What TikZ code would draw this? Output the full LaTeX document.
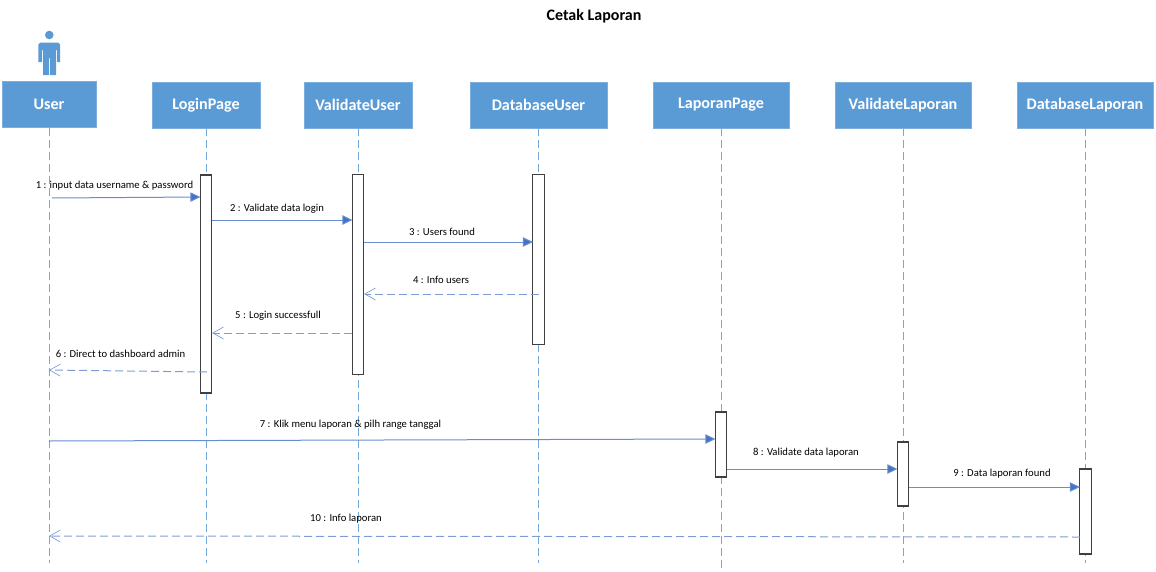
\documentclass[tikz,border=0pt]{standalone}
\usepackage{fontspec}
\setmainfont{Carlito}
\usetikzlibrary{arrows.meta,positioning}
\definecolor{boxBlue}{HTML}{5B9BD5}
\definecolor{msgBlue}{HTML}{4472C4}
\tikzset{
  lifeBox/.style={draw=boxBlue!80!white,fill=boxBlue,text=white,font=\fontsize{12.1pt}{14pt}\selectfont\bfseries,minimum height=34.5pt,inner sep=0pt},
  lifeLine/.style={draw=boxBlue!85!white,line width=0.7pt,dash pattern=on 6pt off 3pt},
  actBox/.style={draw=black!75,fill=white,line width=0.8pt,minimum width=8.5pt,inner sep=0pt},
  callMsg/.style={draw=msgBlue!80!white,line width=0.75pt,shorten >=-0.5pt,-{Triangle[length=7.5pt,width=7pt,fill=msgBlue]}},
  backMsg/.style={draw=msgBlue!70!white,line width=0.75pt,dash pattern=on 6pt off 3pt,-{Straight Barb[length=8pt,width=9pt,line width=0.5pt]}},
  msgText/.style={font=\fontsize{8pt}{10pt}\selectfont,inner sep=0pt,text=black}
}
\begin{document}
\begin{tikzpicture}[x=0.75pt,y=-0.75pt]
\useasboundingbox (0,0) rectangle (1156,571);
\node[font=\fontsize{12pt}{14pt}\selectfont\bfseries] (title) at (594,16) {Cetak Laporan};
%Figur oben links
\fill[boxBlue] (49.3,35) circle (4.3);
\fill[boxBlue] (40.5,42.5) -- (58,42.5) -- (60,44.5) -- (60,62) -- (57,62) -- (57,50) -- (56,50) -- (56,75) -- (50,75) -- (50,58) -- (49,58) -- (49,75) -- (43,75) -- (43,50) -- (42,50) -- (42,62) -- (38.3,62) -- (38.3,44.5) -- cycle;
%Kopfzeile und Lebenslinien
\foreach \name/\x/\y/\w/\yend/\txt in {user/49/104/94/563/User,login/206/105/108/563/LoginPage,valUser/358/105/108/563/ValidateUser,dbUser/538.5/105/137/563/DatabaseUser,lapPage/721/105/136/569/LaporanPage,valLap/903/105/136/563/ValidateLaporan,dbLap/1085/105/136/563/DatabaseLaporan}{
  \coordinate (\name End) at (\x,\yend);
  \draw[lifeLine] (\x,128) -- (\name End);
  \node[lifeBox,minimum width=\w*0.75pt] (\name) at (\x,\y) {\txt};
}
%Aktivierungen
\node[actBox,minimum height=163.5pt] (actLogin) at (206,284) {};
\node[actBox,minimum height=150pt] (actValUser) at (358,274.5) {};
\node[actBox,minimum height=127.5pt] (actDbUser) at (538.5,259.5) {};
\node[actBox,minimum height=48.75pt] (actLapPage) at (721,444.5) {};
\node[actBox,minimum height=48pt] (actValLap) at (903,474) {};
\node[actBox,minimum height=63.75pt] (actDbLap) at (1085.5,511.5) {};
%Nachrichten
\coordinate (m1) at (52,198);
\coordinate (m2) at (0,220);
\coordinate (m3) at (0,242);
\coordinate (m4) at (539,294);
\coordinate (m5) at (0,333);
\coordinate (m6) at (207,372);
\coordinate (m7) at (49,441);
\coordinate (m8) at (0,469);
\coordinate (m9) at (0,487);
\coordinate (m10) at (1080,537);
\draw[callMsg] (m1) -- (actLogin.west |- 0,197);
\draw[callMsg] (actLogin.east |- m2) -- (actValUser.west |- m2);
\draw[callMsg] (actValUser.east |- m3) -- (actDbUser.west |- m3);
\draw[backMsg] (m4) -- (actValUser.east |- m4);
\draw[backMsg] (actValUser.west |- m5) -- (actLogin.east |- m5);
\draw[backMsg] (m6) -- (user |- 0,370);
\draw[callMsg] (m7) -- (actLapPage.west |- 0,439);
\draw[callMsg] (actLapPage.east |- m8) -- (actValLap.west |- m8);
\draw[callMsg] (actValLap.east |- m9) -- (actDbLap.west |- m9);
\draw[backMsg] (m10) -- (user |- 0,536);
\node[msgText] (t1) at (114.5,185.5) {1 : input data username \& password};
\node[msgText] (t2) at (277,208.5) {2 : Validate data login};
\node[msgText] (t3) at (442,231.5) {3 : Users found};
\node[msgText] (t4) at (441,280) {4 : Info users};
\node[msgText] (t5) at (278,316) {5 : Login successfull};
\node[msgText] (t6) at (120.5,353.5) {6 : Direct to dashboard admin};
\node[msgText] (t7) at (350.5,425) {7 : Klik menu laporan \& pilh range tanggal};
\node[msgText] (t8) at (806,453) {8 : Validate data laporan};
\node[msgText] (t9) at (1002,474) {9 : Data laporan found};
\node[msgText] (t10) at (346,519) {10 : Info laporan};
\end{tikzpicture}
\end{document}
